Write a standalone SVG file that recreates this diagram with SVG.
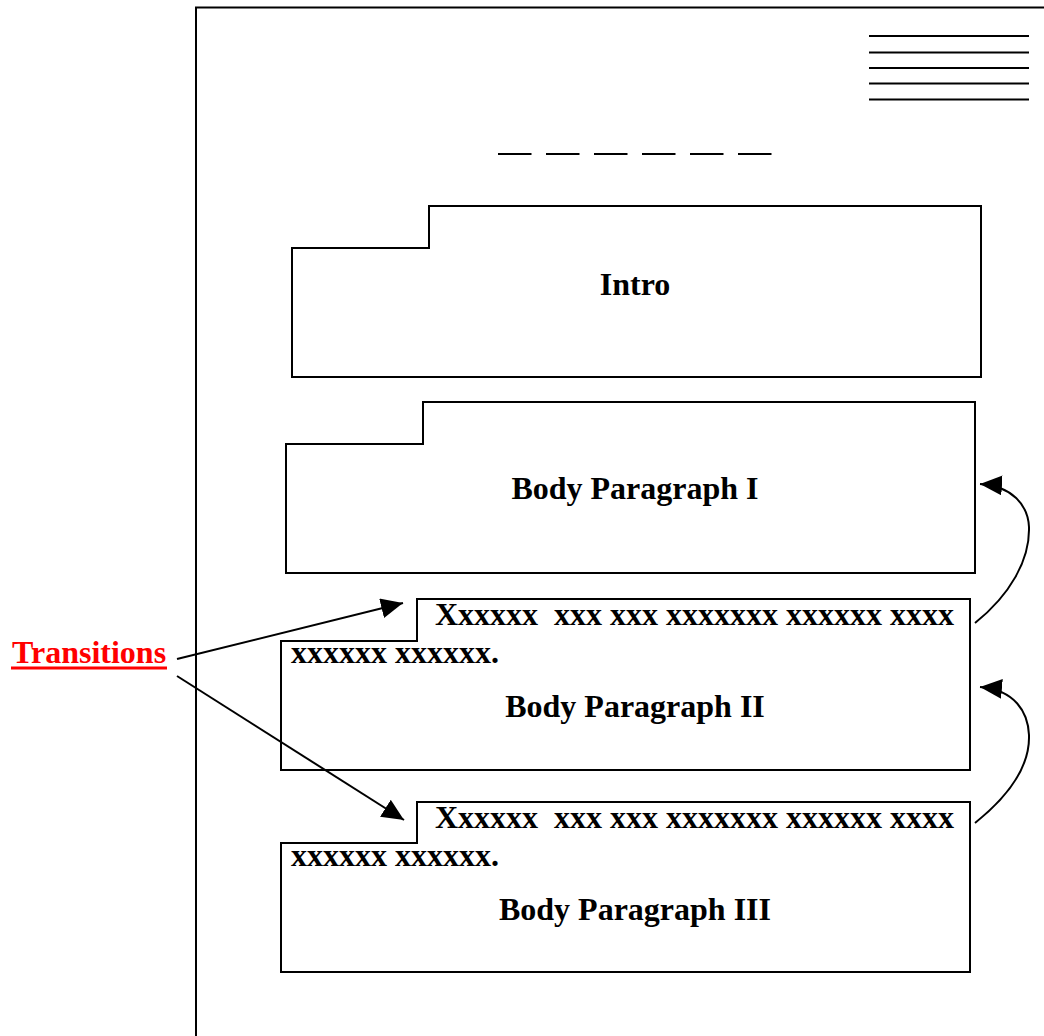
<svg xmlns="http://www.w3.org/2000/svg" width="1044" height="1036" viewBox="0 0 1044 1036">
<style>
.ln{fill:none;stroke:#000;stroke-width:2}
.box{fill:#fff;stroke:#000;stroke-width:2}
.t{font-family:"Liberation Serif","Times New Roman",serif;font-weight:bold;font-size:32px;fill:#000}
.c{text-anchor:middle}
</style>
<defs>
<marker id="ah2" markerWidth="22" markerHeight="20" refX="22" refY="10" orient="auto" markerUnits="userSpaceOnUse" viewBox="0 0 22 20">
<path d="M0,0 L22,10 L0,20 Z" fill="#000"/>
</marker>
</defs>
<rect width="1044" height="1036" fill="#fff"/>
<g id="page">
<path class="ln" d="M196,1036 V7.5 H1044"/>
<g id="header-lines" class="ln">
<line x1="869" y1="36" x2="1029" y2="36"/>
<line x1="869" y1="52.5" x2="1029" y2="52.5"/>
<line x1="869" y1="68" x2="1029" y2="68"/>
<line x1="869" y1="83.5" x2="1029" y2="83.5"/>
<line x1="869" y1="99.5" x2="1029" y2="99.5"/>
</g>
<line id="title-dashes" class="ln" x1="498" y1="154" x2="772" y2="154" stroke-dasharray="33.5 14.5"/>
</g>
<g id="intro">
<path class="box" d="M292,248 H429 V206 H981 V377 H292 Z"/>
<text class="t c" x="635" y="295">Intro</text>
</g>
<g id="body1">
<path class="box" d="M286,444 H423 V402 H975 V573 H286 Z"/>
<text class="t c" x="635" y="499">Body Paragraph I</text>
</g>
<g id="body2">
<path class="box" d="M281,641 H417 V599 H970 V770 H281 Z"/>
<text class="t" x="435" y="625" xml:space="preserve">Xxxxxx  xxx xxx xxxxxxx xxxxxx xxxx</text>
<text class="t" x="291" y="663">xxxxxx xxxxxx.</text>
<text class="t c" x="635" y="717">Body Paragraph II</text>
</g>
<g id="body3">
<path class="box" d="M281,843 H417 V802 H970 V972 H281 Z"/>
<text class="t" x="435" y="828" xml:space="preserve">Xxxxxx  xxx xxx xxxxxxx xxxxxx xxxx</text>
<text class="t" x="291" y="866">xxxxxx xxxxxx.</text>
<text class="t c" x="635" y="920">Body Paragraph III</text>
</g>
<g id="transitions-label">
<text x="12" y="663" font-family="'Liberation Serif','Times New Roman',serif" font-weight="bold" font-size="32" fill="#f00">Transitions</text>
<rect x="11" y="666.5" width="156" height="3" fill="#f00"/>
</g>
<g id="connectors" class="ln">
<line x1="177" y1="659" x2="403" y2="603" marker-end="url(#ah2)"/>
<line x1="177" y1="676" x2="404" y2="820" marker-end="url(#ah2)"/>
<path d="M975,623 C1010,595 1030,560 1029,527 C1028,505 1012,486 980,484" marker-end="url(#ah2)"/>
<path d="M975,823 C1010,795 1030,765 1029,735 C1028,712 1015,690 980,687" marker-end="url(#ah2)"/>
</g>
</svg>
